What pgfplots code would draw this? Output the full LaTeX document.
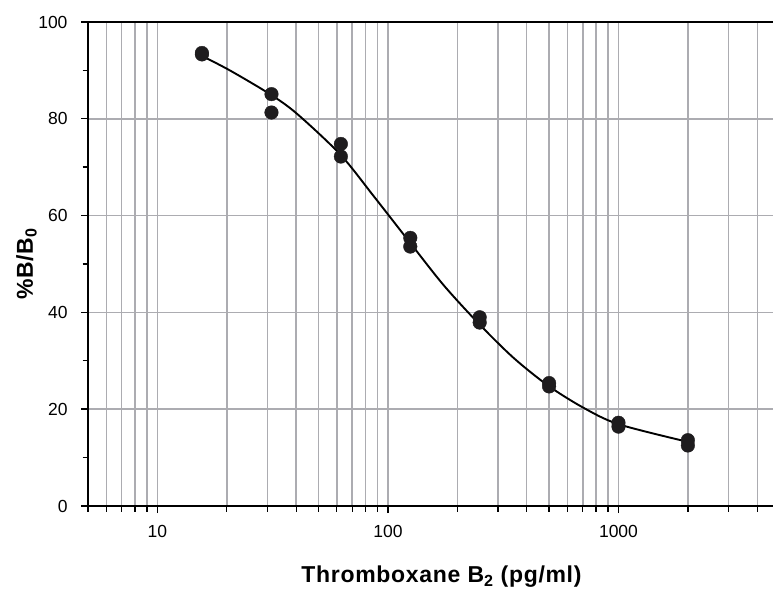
\documentclass[border=0pt]{standalone}
\usepackage{fontspec}
\setmainfont{Liberation Sans}
\usepackage{pgfplots}
\pgfplotsset{compat=1.18}

\definecolor{gridgray}{RGB}{172,172,177}
\definecolor{dotblack}{RGB}{30,28,30}

\begin{document}
\begin{tikzpicture}
  \useasboundingbox (-88bp,-84bp) rectangle (685bp,506bp);
  \begin{axis}[
    at={(0,0)}, anchor=south west,
    width=685bp, height=484bp, scale only axis,
    xmode=log, log basis x=10,
    xmin=5, xmax=4680, ymin=0, ymax=100,
    xtick={10,100,1000},
    xticklabels={10,100,1000},
    minor xtick={5,6,7,8,9,20,30,40,50,60,70,80,90,200,300,400,500,600,700,800,900,2000,3000,4000},
    ytick={0,20,40,60,80,100},
    minor y tick num=1,
    axis x line=box, axis y line=left,
    xtick pos=bottom, ytick pos=left,
    axis line style={-, line width=1.8bp, black},
    tick align=outside,
    major tick length=7bp, minor tick length=5.5bp,
    tick style={line width=1.4bp, black},
    xmajorgrids=true, xminorgrids=true, ymajorgrids=true,
    grid style={line width=1.5bp, draw=gridgray},
    minor grid style={line width=1.5bp, draw=gridgray},
    /pgf/number format/assume math mode=true,
    tick label style={font=\fontsize{17.5bp}{20bp}\selectfont},
    xticklabel style={yshift=-9bp},
    yticklabel style={xshift=-10bp},
    every axis x label/.style={at={(axis description cs:0.516,-0.159)}, anchor=base, inner sep=0pt},
    every axis y label/.style={at={(axis description cs:-0.0803,0.5)}, rotate=90, anchor=base, inner sep=0pt},
    label style={font=\bfseries\addfontfeatures{LetterSpace=3}\fontsize{23bp}{27bp}\selectfont},
    xlabel={Thromboxane B\textsubscript{2} (pg/ml)},
    ylabel={\%B/B\textsubscript{0}},
    clip=false,
  ]
  % fitted curve
  \addplot[smooth, tension=0.5, line width=1.9bp, black] coordinates {
    (15.9,92.8) (20.8,89.9) (31.0,85.0) (40.4,81.0) (62.2,72.6) (86.8,64.0)
    (125.2,54.3) (174.6,45.6) (247.5,37.7) (350.8,30.6) (497.5,24.8)
    (704.7,20.3) (1000,16.9) (1979,13.3)
  };
  % duplicate standards
  \addplot[only marks, mark=*, mark size=6.8bp, color=dotblack] coordinates {
    (15.6,93.6) (15.6,93.3)
    (31.25,85.1) (31.25,81.3)
    (62.5,74.8) (62.5,72.2)
    (125,55.4) (125,53.6)
    (250,39.0) (250,37.9)
    (500,25.4) (500,24.7)
    (1000,17.2) (1000,16.4)
    (2000,13.6) (2000,12.5)
  };
  \end{axis}
\end{tikzpicture}
\end{document}
